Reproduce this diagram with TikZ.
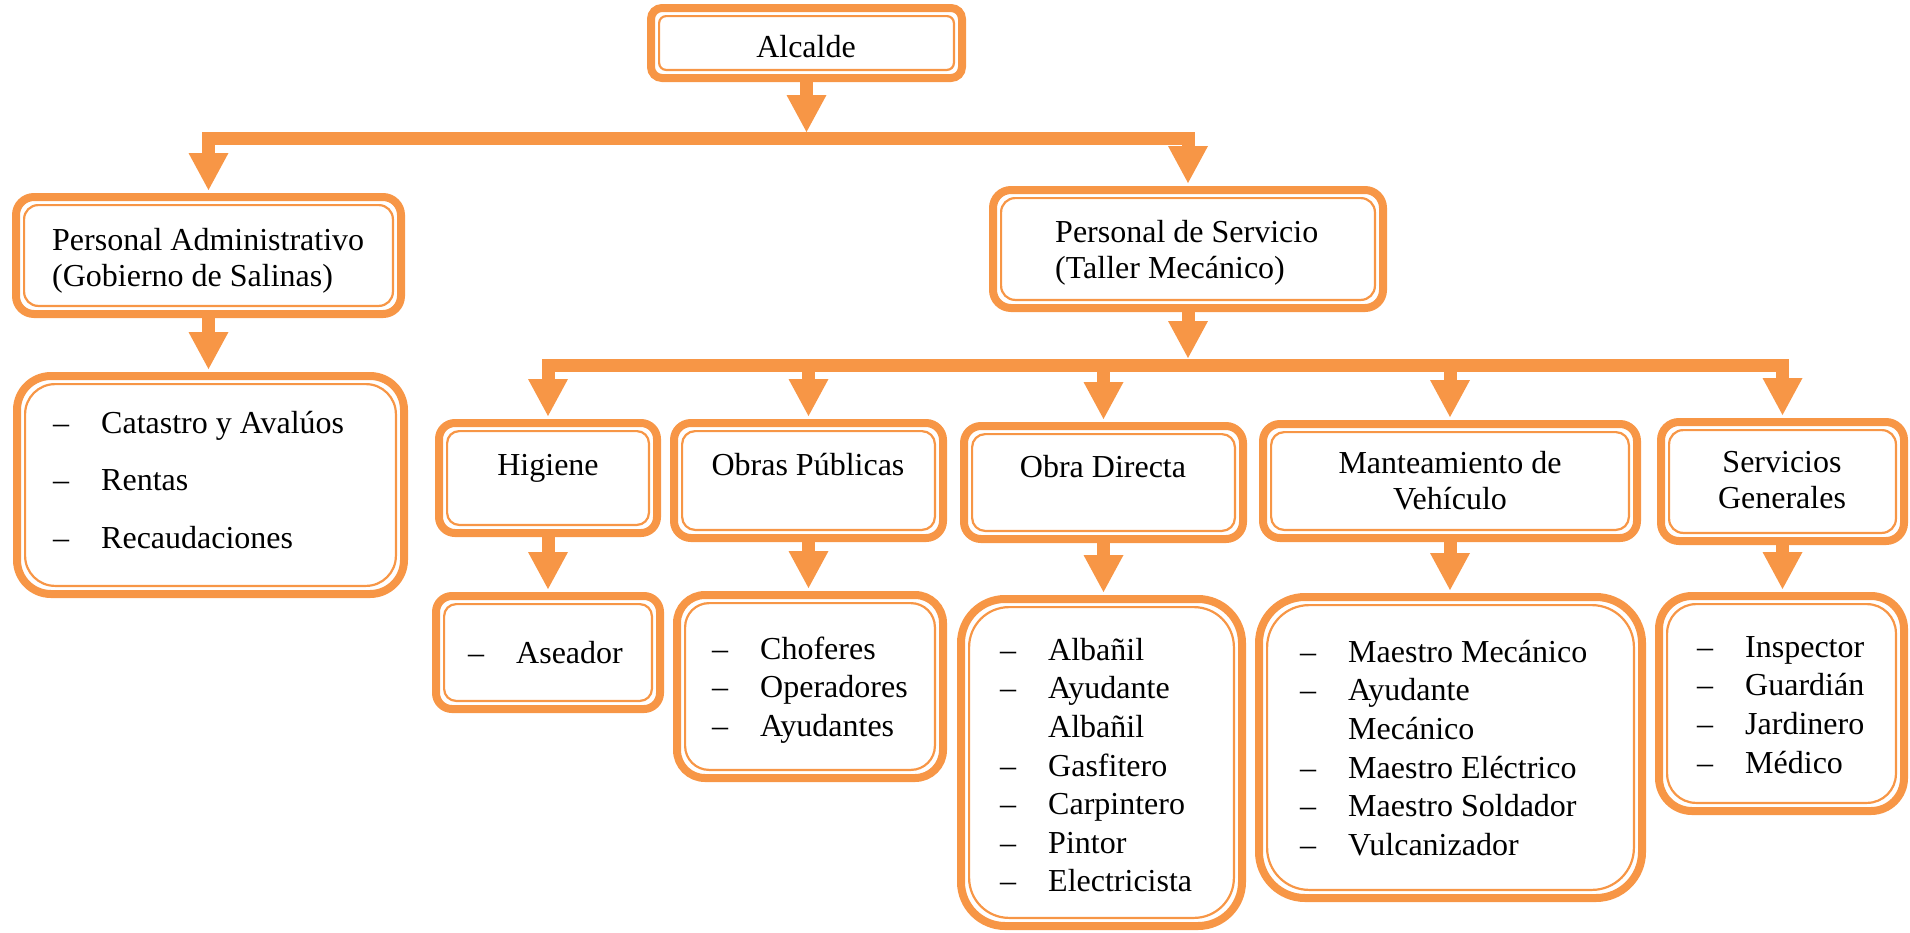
\documentclass[tikz,border=0pt]{standalone}
\usepackage{fontspec}
\setmainfont{Liberation Serif}
\usetikzlibrary{arrows.meta}
\definecolor{org}{HTML}{F79646}
\newcommand{\topfix}{\rule{0pt}{30pt}}
\newcommand{\itm}[1]{\makebox[48pt][l]{–}#1}
\newcommand{\itmc}[1]{\hspace*{48pt}#1}
\tikzset{
  obox/.style={draw=org, line width=8pt, rounded corners=#1pt-4pt, inner sep=0pt,
    path picture={\draw[org, line width=2.2pt, rounded corners=#1pt-8pt]
      ([shift={(8.1pt,8.1pt)}]path picture bounding box.south west) rectangle
      ([shift={(-8.1pt,-8.1pt)}]path picture bounding box.north east);}},
  conn/.style={draw=org, line width=13pt, -{Triangle[length=37pt 0 0, width=40pt 0 0, line width=0pt 0 0]}, shorten >=3pt},
  conn2/.style={draw=org, line width=13pt, {Triangle[length=37pt 0 0, width=40pt 0 0, line width=0pt 0 0]}-{Triangle[length=37pt 0 0, width=40pt 0 0, line width=0pt 0 0]}, shorten >=3pt, shorten <=3pt},
  tfont/.style={font=\fontsize{32}{36.5}\selectfont, inner sep=0pt},
  lfont/.style={font=\fontsize{32}{38.6}\selectfont, inner sep=0pt, align=left, anchor=north west},
}
\newcommand{\bx}[6]{\node[obox={#6}, minimum width={#4-#2-8}, minimum height={#5-#3-8}] (#1) at ({(#2+#4)/2},{(#3+#5)/2}) {};}
\begin{document}
\begin{tikzpicture}[x=1pt, y=-1pt]
\useasboundingbox (0,0) rectangle (1910,932);
% boxes
\bx{alc}{647}{4}{966}{82}{15}
\bx{pa}{12}{193}{405}{318}{22}
\bx{cat}{13}{372}{408}{598}{38}
\bx{pds}{989}{186}{1387}{312}{22}
\bx{hig}{435}{419}{661}{537}{20}
\bx{obp}{670}{419}{947}{542}{21}
\bx{obd}{960}{422}{1247}{543}{21}
\bx{man}{1259}{420}{1641}{542}{21}
\bx{srv}{1657}{418}{1908}{545}{22}
\bx{ase}{432}{592}{664}{713}{20}
\bx{obpl}{673}{591}{947}{782}{32}
\bx{obdl}{957}{595}{1246}{930}{48}
\bx{manl}{1255}{593}{1646}{902}{50}
\bx{srvl}{1655}{592}{1908}{815}{37}
% bar coordinates
\coordinate (b1) at (0,138);
\coordinate (b1t) at (0,135);
\coordinate (b2) at (0,365);
\coordinate (b2t) at (0,361);
% connectors
\draw[conn] (alc.south) -- (alc.south |- b1t);
\draw[conn2] (pa.north) -- (pa.north |- b1) -- (pds.north |- b1) -- (pds.north);
\draw[conn] (pa.south) -- (pa.south |- cat.north);
\draw[conn] (pds.south) -- (pds.south |- b2t);
\draw[conn2] (hig.north) -- (hig.north |- b2) -- (srv.north |- b2) -- (srv.north);
\draw[conn] (obp.north |- b2) -- (obp.north);
\draw[conn] (obd.north |- b2) -- (obd.north);
\draw[conn] (man.north |- b2) -- (man.north);
\draw[conn] (hig.south) -- (hig.south |- ase.north);
\draw[conn] (obp.south) -- (obp.south |- obpl.north);
\draw[conn] (obd.south) -- (obd.south |- obdl.north);
\draw[conn] (man.south) -- (man.south |- manl.north);
\draw[conn] (srv.south) -- (srv.south |- srvl.north);
% title texts
\node[tfont, anchor=north] (alct) at (806,27) {\topfix Alcalde};
\node[tfont, anchor=north west, align=left] (pat) at (52,220) {\topfix Personal Administrativo\\(Gobierno de Salinas)};
\node[tfont, anchor=north west, align=left] (pdst) at (1055,212) {\topfix Personal de Servicio\\(Taller Mecánico)};
\node[tfont, anchor=north] (higt) at (548,445) {\topfix Higiene};
\node[tfont, anchor=north] (obpt) at (808,445) {\topfix Obras Públicas};
\node[tfont, anchor=north] (obdt) at (1103,447) {\topfix Obra Directa};
\node[tfont, anchor=north, align=center] (mant) at (1450,443) {\topfix Manteamiento de\\Vehículo};
\node[tfont, anchor=north, align=center] (srvt) at (1782,442) {\topfix Servicios\\Generales};
% list texts
\node[lfont, font=\fontsize{32}{57.5}\selectfont] (catt) at (53,403) {\topfix\itm{Catastro y Avalúos}\\\itm{Rentas}\\\itm{Recaudaciones}};
\node[lfont] (aset) at (468,633) {\topfix\itm{Aseador}};
\node[lfont] (obplt) at (712,629) {\topfix\itm{Choferes}\\\itm{Operadores}\\\itm{Ayudantes}};
\node[lfont] (obdlt) at (1000,630) {\topfix\itm{Albañil}\\\itm{Ayudante}\\\itmc{Albañil}\\\itm{Gasfitero}\\\itm{Carpintero}\\\itm{Pintor}\\\itm{Electricista}};
\node[lfont] (manlt) at (1300,632) {\topfix\itm{Maestro Mecánico}\\\itm{Ayudante}\\\itmc{Mecánico}\\\itm{Maestro Eléctrico}\\\itm{Maestro Soldador}\\\itm{Vulcanizador}};
\node[lfont] (srvlt) at (1697,627) {\topfix\itm{Inspector}\\\itm{Guardián}\\\itm{Jardinero}\\\itm{Médico}};
\end{tikzpicture}
\end{document}
